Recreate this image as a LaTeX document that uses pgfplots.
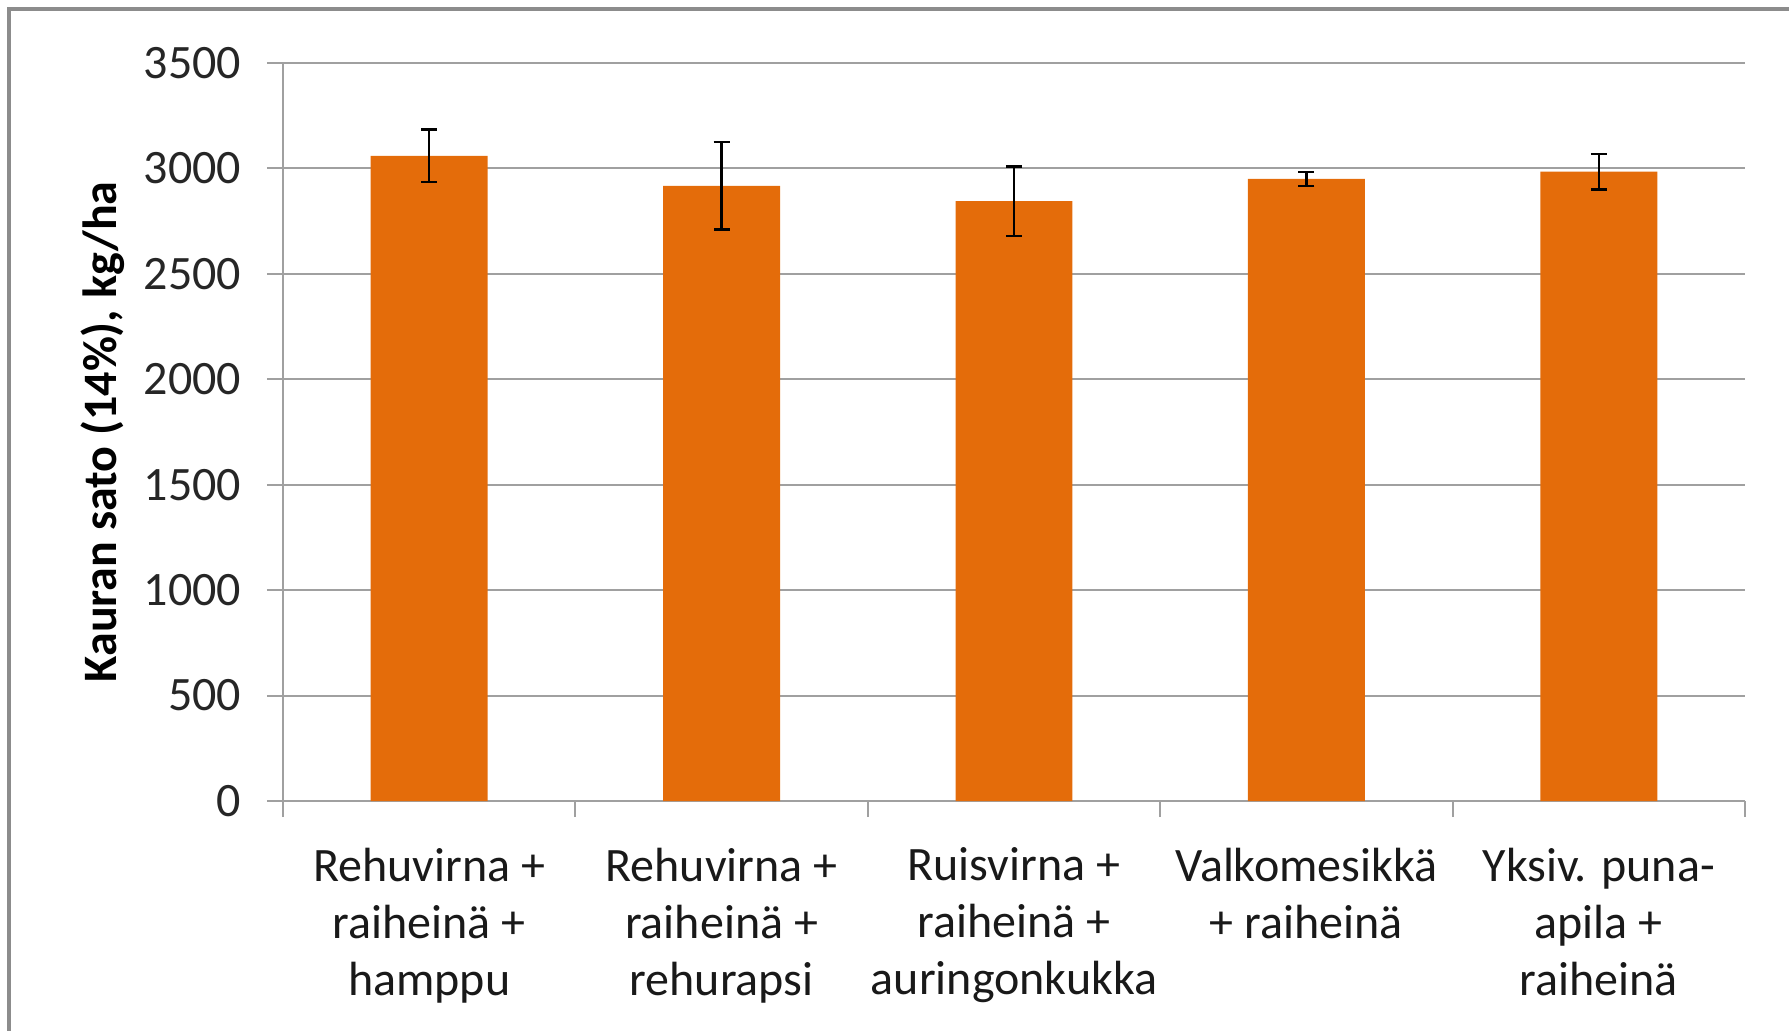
\documentclass[border=0pt]{standalone}
\usepackage{fontspec}
\setmainfont{Carlito}
\usepackage{pgfplots}
\pgfplotsset{compat=1.18}
\definecolor{barorange}{HTML}{E46C0A}
\definecolor{gridgray}{HTML}{A0A0A0}
\definecolor{framegray}{HTML}{8C8C8C}
\begin{document}
\fontsize{12}{14.25}\selectfont
\begin{tikzpicture}
\useasboundingbox (0,0) rectangle (447.25pt,257.5pt);
\draw[framegray, line width=1pt] (2.25pt,-5pt) -- (2.25pt,255.25pt) -- (460pt,255.25pt);
\begin{axis}[
  at={(70.75pt,57.25pt)}, anchor=south west,
  scale only axis, width=365.5pt, height=184.5pt,
  xmin=-0.5, xmax=4.5, ymin=0, ymax=3500,
  ybar, bar width=0.4,
  ytick={0,500,...,3500},
  xtick={-0.5,0.5,...,4.5}, xticklabel=\empty,
  extra x ticks={0,1,2,3,4},
  extra x tick labels={{Rehuvirna +\\raiheinä +\\hamppu},{Rehuvirna +\\raiheinä +\\rehurapsi},{Ruisvirna +\\raiheinä +\\auringonkukka},{Valkomesikkä\\+ raiheinä},{Yksiv. puna-\\apila +\\raiheinä}},
  extra x tick style={major tick length=0pt, xticklabel style={align=center, anchor=north, yshift=-7.5pt}},
  axis lines*=left,
  tick align=outside, major tick length=4pt,
  tick style={gridgray, line width=0.5pt},
  ymajorgrids, grid style={gridgray, line width=0.5pt},
  axis line style={gridgray, line width=0.5pt},
  /pgf/number format/assume math mode=true,
  /pgf/number format/1000 sep={},
  yticklabel style={text=black!85, xshift=-2.3pt},
  xticklabel style={text=black!90},
  ylabel={\bfseries Kauran sato (14\%), kg/ha},
  every axis y label/.style={at={(axis description cs:-0.1231,0.5)}, rotate=90, anchor=center},
]
\addplot[fill=barorange, draw=none,
  error bars/.cd, y dir=both, y explicit,
  error bar style={black, line width=0.6pt},
  error mark options={rotate=90, black, mark size=2pt, line width=0.6pt}]
  coordinates {
  (0,3060) +- (0,125)
  (1,2917) +- (0,207)
  (2,2845) +- (0,164)
  (3,2950) +- (0,33)
  (4,2985) +- (0,84)
  };
\end{axis}
\end{tikzpicture}
\end{document}
